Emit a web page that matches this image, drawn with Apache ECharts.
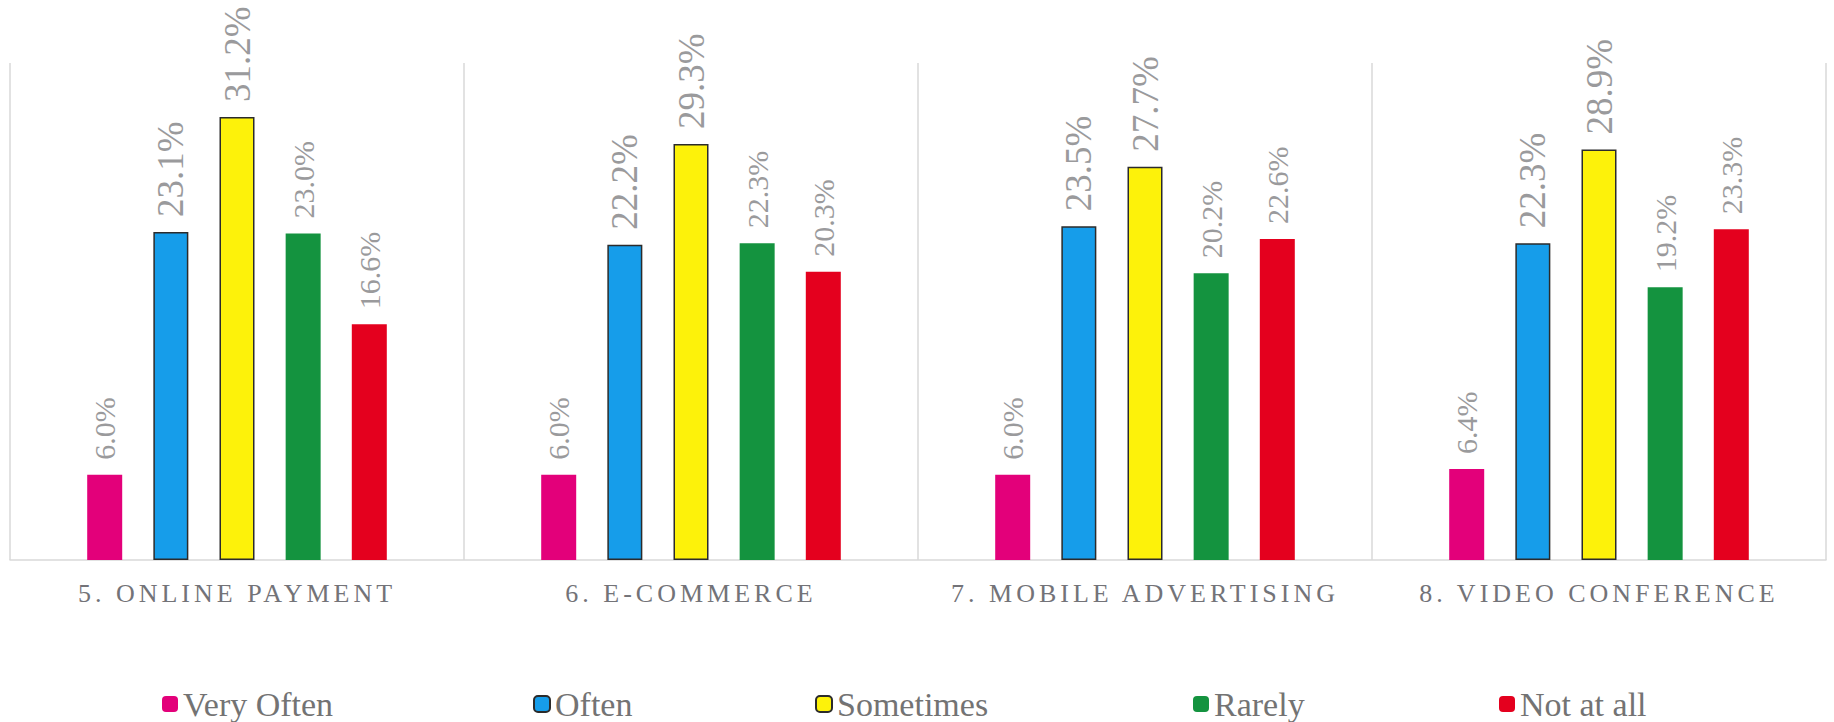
<!DOCTYPE html>
<html>
<head>
<meta charset="utf-8">
<script src="https://cdn.jsdelivr.net/npm/echarts@6/dist/echarts.min.js"></script>
<style>
  html, body { margin: 0; padding: 0; background: #ffffff; }
  #chart { width: 1834px; height: 722px; }
  /* tracked capitals for the category names under the axis */
  #chart text[fill="#737378"] { letter-spacing: 4px; }
</style>
</head>
<body>
<div id="chart"></div>
<script>
// Survey items shown along the x axis
const categories = ['5. ONLINE PAYMENT', '6. E-COMMERCE', '7. MOBILE ADVERTISING', '8. VIDEO CONFERENCE'];

// Share of respondents (%) per answer, one value per item
const veryOften = [6.0, 6.0, 6.0, 6.4];
const often     = [23.1, 22.2, 23.5, 22.3];
const sometimes = [31.2, 29.3, 27.7, 28.9];
const rarely    = [23.0, 22.3, 20.2, 19.2];
const notAtAll  = [16.6, 20.3, 22.6, 23.3];

const answerNames = ['Very Often', 'Often', 'Sometimes', 'Rarely', 'Not at all'];
const answerValues = [veryOften, often, sometimes, rarely, notAtAll];

const colors = ['#E3007A', '#169DEA', '#FDF20A', '#14933F', '#E4001E'];
const outlined = [false, true, true, false, false];
const labelSizes = [30, 37, 37, 30, 30];
const legendLeft = [162, 533, 815, 1193, 1499];

const chart = echarts.init(document.getElementById('chart'), null, { renderer: 'svg' });

const series = answerNames.map((name, i) => ({
  name: name,
  type: 'bar',
  data: answerValues[i],
  barWidth: 35,
  barGap: '89%',
  itemStyle: {
    color: colors[i],
    borderColor: outlined[i] ? '#2b2b2b' : colors[i],
    borderWidth: outlined[i] ? 1.5 : 0
  },
  label: {
    show: true,
    position: 'top',
    distance: 15,
    rotate: 90,
    align: 'left',
    verticalAlign: 'middle',
    fontFamily: 'Liberation Serif',
    fontSize: labelSizes[i],
    color: '#9a9a9c',
    formatter: p => p.value.toFixed(1) + '%'
  },
  emphasis: { disabled: true }
}));

const legends = answerNames.map((name, i) => ({
  data: [name],
  left: legendLeft[i],
  top: 687,
  padding: 0,
  itemWidth: 16,
  itemHeight: 16,
  selectedMode: false,
  textStyle: {
    fontFamily: 'Liberation Serif',
    fontSize: 34,
    color: '#737373'
  }
}));

chart.setOption({
  animation: false,
  backgroundColor: '#ffffff',
  legend: legends,
  grid: { left: 10, right: 8, top: 63, bottom: 162 },
  xAxis: {
    type: 'category',
    data: categories,
    axisLine: { show: true, lineStyle: { color: '#d9d9d9', width: 1.5 } },
    axisTick: { show: false },
    splitLine: { show: true, lineStyle: { color: '#d9d9d9', width: 1.5 } },
    axisLabel: {
      margin: 20,
      fontFamily: 'Liberation Serif',
      fontSize: 26,
      color: '#737378'
    }
  },
  yAxis: {
    type: 'value',
    min: 0,
    max: 35,
    show: false,
    splitLine: { show: false }
  },
  series: series
});
</script>
</body>
</html>
